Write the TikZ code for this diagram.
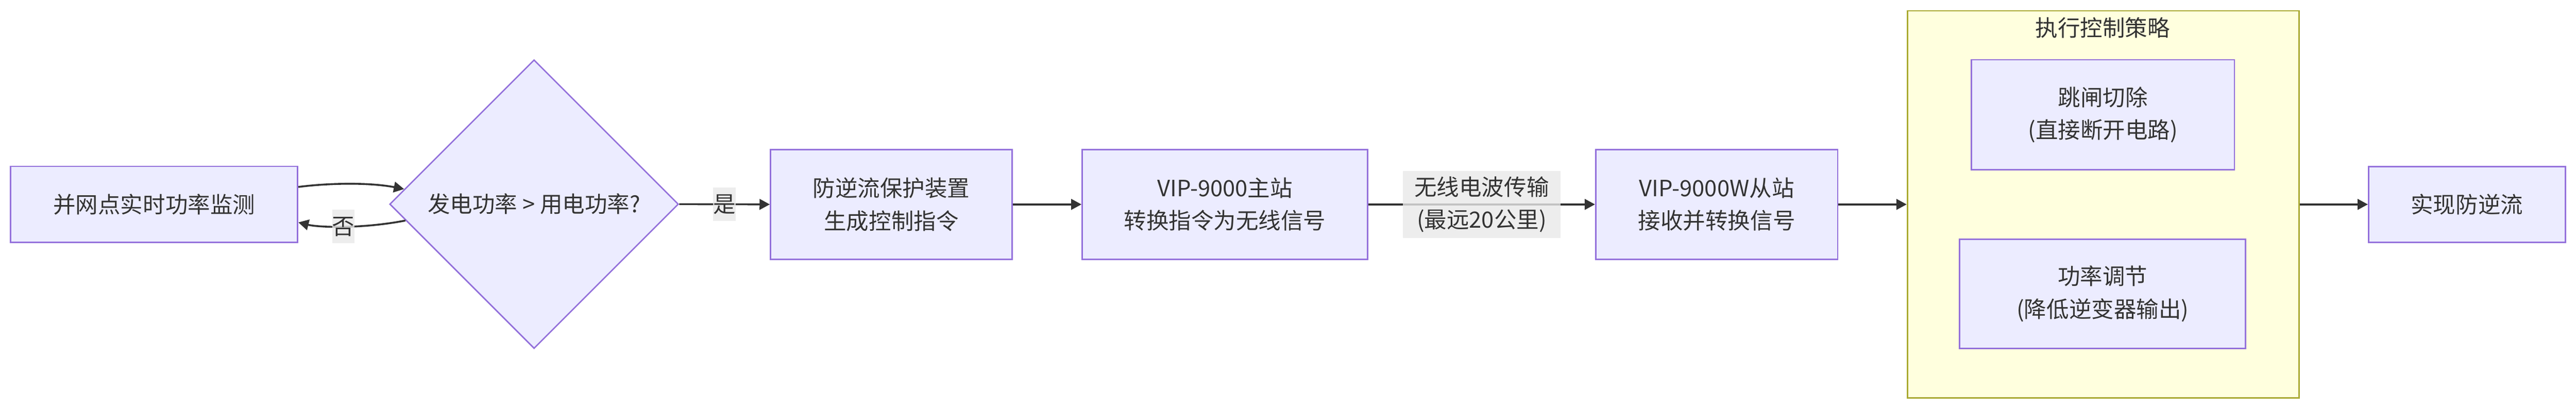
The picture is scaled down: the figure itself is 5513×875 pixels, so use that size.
\documentclass[tikz,border=0pt]{standalone}
\usepackage{fontspec}
\setmainfont{Noto Sans CJK SC}
\usetikzlibrary{shapes.geometric,arrows.meta,calc}
\definecolor{nodefill}{HTML}{ECECFF}
\definecolor{nodeline}{HTML}{9370DB}
\definecolor{clusterfill}{HTML}{FFFFDE}
\definecolor{clusterline}{HTML}{AAAA33}
\definecolor{edgecol}{HTML}{333333}
\definecolor{labelbg}{HTML}{E8E8E8}
\definecolor{txtcol}{HTML}{333333}
\begin{document}
\begin{tikzpicture}[x=0.75pt,y=-0.75pt,
  every node/.style={font=\fontsize{36pt}{52.5pt}\selectfont, text=txtcol},
  sz/.style 2 args={minimum width=#1*0.75pt, minimum height=#2*0.75pt},
  procbox/.style={rectangle, draw=nodeline, fill=nodefill, line width=2.25pt, inner sep=0pt, align=center},
  decision/.style={diamond, draw=nodeline, fill=nodefill, line width=2.25pt, inner sep=0pt, aspect=1},
  clusterbox/.style={rectangle, draw=clusterline, fill=clusterfill, line width=2.25pt, inner sep=0pt},
  edgelbl/.style={rectangle, fill=labelbg, fill opacity=0.8, text opacity=1, inner sep=0pt, align=center},
  flow/.style={draw=edgecol, line width=3pt, -{Triangle[length=16.5pt,width=17pt]}}
]
\useasboundingbox (0,0) rectangle (5513,875);

% nodes
\node[procbox, sz={614}{163}] (A) at (330,437.5) {并网点实时功率监测};
\node[decision, sz={618}{618}] (D) at (1143,437) {发电功率 > 用电功率?};
\node[procbox, sz={517}{235}] (B) at (1907.5,437.5) {防逆流保护装置\\生成控制指令};
\node[procbox, sz={611}{235}] (C) at (2621.5,437.5) {VIP-9000主站\\转换指令为无线信号};
\node[procbox, sz={518}{235}] (S) at (3674,437.5) {VIP-9000W从站\\接收并转换信号};

% cluster
\node[clusterbox, sz={838}{829}] (K) at (4501,437.5) {};
\node (Ktitle) at (4500,59) {执行控制策略};
\node[procbox, sz={563}{235}] (T) at (4500.5,245.5) {跳闸切除\\(直接断开电路)};
\node[procbox, sz={612}{234}] (P) at (4500,629) {功率调节\\(降低逆变器输出)};

\node[procbox, sz={421}{162}] (F) at (5279.5,437.5) {实现防逆流};

% edges
\draw[flow] ([yshift=28pt]A.east) .. controls (700,392) and (790,390) .. ($(D.west)!0.104!(D.north)$);
\draw[flow] ($(D.west)!0.113!(D.south)$) .. controls (775,490) and (683,487) .. ([yshift=-28.9pt]A.east)
  node[edgelbl, sz={47}{72}, pos=0.5] (lblno) {否};
\draw[flow] (D.east) -- node[edgelbl, sz={49}{71}] (lblyes) {是} (B.west);
\draw[flow] (B) -- (C);
\draw[flow] (C) -- node[edgelbl, sz={338}{143}] (lblw) {无线电波传输\\(最远20公里)} (S);
\draw[flow] (S.east) -- (S.east -| K.west);
\draw[flow] (F.west -| K.east) -- (F.west);
\end{tikzpicture}
\end{document}
